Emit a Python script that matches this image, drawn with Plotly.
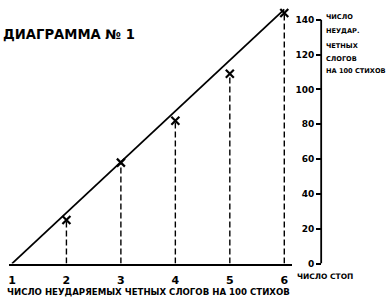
import plotly.graph_objects as go

# Data
feet = [1, 2, 3, 4, 5, 6]
tick_labels = ["1", "2", "3", "4", "5", "6"]
obs_x = [2, 3, 4, 5, 6]
obs_y = [25, 58, 82, 109, 144]
trend_x = [1, 6]
trend_y = [0, 146]
y_ticks = [0, 20, 40, 60, 80, 100, 120, 140]

W, H = 392, 304
FONT = "DejaVu Sans, sans-serif"

# pixel geometry
px_per_unit_x = 54.6
x1_px = 11
x_left_px, x_right_px = 8, 292
base_px = 268
px_per_unit_y = 1.77
y_top_val = 150
axis_px = 321

xr0 = 1 - (x1_px - x_left_px) / px_per_unit_x
xr1 = 1 + (x_right_px - x1_px) / px_per_unit_x
y_dom_bottom = (H - base_px) / H
y_dom_top = (H - (base_px - y_top_val * px_per_unit_y)) / H

fig = go.Figure()

# dashed drop lines
dx, dy = [], []
for xv, yv in zip(obs_x, obs_y):
    dx += [xv, xv, None]
    dy += [0, yv, None]
fig.add_trace(go.Scatter(x=dx, y=dy, mode="lines",
                         line=dict(color="black", width=1.4, dash="6px,3px"),
                         hoverinfo="skip", showlegend=False))

# trend line
fig.add_trace(go.Scatter(x=trend_x, y=trend_y, mode="lines",
                         line=dict(color="black", width=1.8),
                         showlegend=False, cliponaxis=False))

# observed markers
fig.add_trace(go.Scatter(x=obs_x, y=obs_y, mode="markers",
                         marker=dict(symbol="x-thin", size=8,
                                     line=dict(color="black", width=2.2)),
                         showlegend=False, cliponaxis=False))

fig.update_layout(
    width=W, height=H,
    margin=dict(l=0, r=0, t=0, b=0),
    paper_bgcolor="white", plot_bgcolor="white",
    font=dict(family=FONT, color="black"),
    xaxis=dict(domain=[x_left_px / W, x_right_px / W], range=[xr0, xr1],
               showline=True, linecolor="black", linewidth=2,
               showgrid=False, zeroline=False, ticks="",
               tickvals=feet, ticktext=tick_labels, ticklabelstandoff=5,
               tickfont=dict(size=11, family=FONT, weight="bold"),
               anchor="y"),
    yaxis=dict(domain=[y_dom_bottom, y_dom_top], range=[0, y_top_val],
               anchor="free", position=axis_px / W, side="left",
               showline=False, showgrid=False, zeroline=False,
               ticks="outside", ticklen=5, tickwidth=1.5, tickcolor="black",
               tickvals=y_ticks, ticktext=[str(v) for v in y_ticks],
               tickfont=dict(size=9, family=FONT, weight="bold")),
)

# right axis line
fig.add_shape(type="line", xref="paper", yref="y",
              x0=axis_px / W, x1=axis_px / W, y0=0, y1=140,
              line=dict(color="black", width=1.8))

def ann(text, xpx, ypx, size, anchor="left"):
    fig.add_annotation(text=text, xref="paper", yref="paper",
                       x=xpx / W, y=(H - ypx) / H, xanchor=anchor, yanchor="middle",
                       showarrow=False,
                       font=dict(size=size, family=FONT, color="black", weight="bold"))

ann("ДИАГРАММА № 1", 0, 35, 13.2)
right_lines = ["ЧИСЛО", "НЕУДАР.", "ЧЕТНЫХ", "СЛОГОВ", "НА 100 СТИХОВ"]
right_y = [17, 32, 47, 60, 72]
for t, yy in zip(right_lines, right_y):
    ann(t, 324, yy, 6.6)
ann("ЧИСЛО СТОП", 295, 281, 7.5)
ann("ЧИСЛО НЕУДАРЯЕМЫХ ЧЕТНЫХ СЛОГОВ НА 100 СТИХОВ", 4, 297, 8.6)

fig.write_html("out.html", config={"displayModeBar": False},
               post_script="document.body.style.margin='0';")
